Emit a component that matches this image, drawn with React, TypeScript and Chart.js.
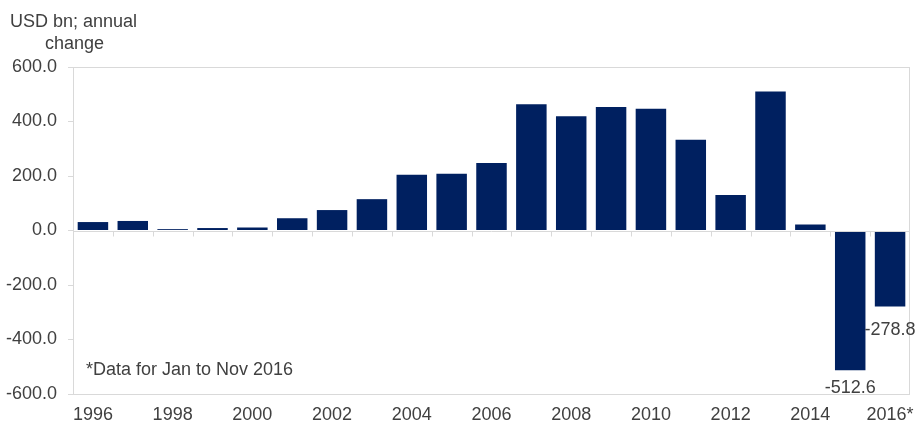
import React, { useEffect, useRef } from "react";
import { Chart, registerables } from "chart.js";

Chart.register(...registerables);

const years = [
  "1996", "1997", "1998", "1999", "2000", "2001", "2002", "2003", "2004", "2005",
  "2006", "2007", "2008", "2009", "2010", "2011", "2012", "2013", "2014", "2015", "2016*",
];
const changes = [
  31, 35, 5, 9, 11, 45, 75, 115, 205, 208, 248, 463, 419, 453, 447, 333, 130, 510, 22, -512.6, -278.8,
];
const labelledIndices = [19, 20];
const yTicks = [-600, -400, -200, 0, 200, 400, 600];
const titleLines = ["USD bn; annual", "change"];
const footnote = "*Data for Jan to Nov 2016";

const FONT = "'Liberation Sans', Arial, sans-serif";
const TEXT = "#404040";
const LINE = "#d9d9d9";

const decorPlugin = {
  id: "decor",
  beforeDatasetsDraw(chart: any) {
    const { ctx, chartArea } = chart;
    ctx.save();
    ctx.strokeStyle = LINE;
    ctx.lineWidth = 1;
    ctx.strokeRect(chartArea.left + 0.5, chartArea.top + 0.5, chartArea.right - chartArea.left - 1, chartArea.bottom - chartArea.top);
    ctx.restore();
  },
  afterDatasetsDraw(chart: any) {
    const { ctx, chartArea, scales } = chart;
    const y0 = Math.round(scales.y.getPixelForValue(0)) + 0.5;
    ctx.save();
    ctx.strokeStyle = LINE;
    ctx.lineWidth = 1;
    ctx.beginPath();
    ctx.moveTo(chartArea.left, y0);
    ctx.lineTo(chartArea.right, y0);
    const n = years.length;
    const catW = (chartArea.right - chartArea.left) / n;
    for (let k = 1; k < n; k++) {
      const x = Math.round(chartArea.left + k * catW) + 0.5;
      ctx.moveTo(x, y0);
      ctx.lineTo(x, y0 + 5);
    }
    ctx.stroke();

    // value labels
    const meta = chart.getDatasetMeta(0);
    ctx.fillStyle = TEXT;
    ctx.font = `18px ${FONT}`;
    ctx.textAlign = "center";
    ctx.textBaseline = "middle";
    const offsets = [18, 24];
    labelledIndices.forEach((idx, j) => {
      const el = meta.data[idx];
      ctx.fillText(changes[idx].toFixed(1), el.x, el.y + offsets[j]);
    });

    // footnote
    ctx.textAlign = "left";
    ctx.fillText(footnote, 86, 370);

    // title
    ctx.textBaseline = "alphabetic";
    ctx.fillText(titleLines[0], 10, 27);
    ctx.fillText(titleLines[1], 45, 49);
    ctx.restore();
  },
};

export default function App() {
  const ref = useRef<HTMLCanvasElement | null>(null);
  useEffect(() => {
    if (!ref.current) return;
    const chart = new Chart(ref.current, {
      type: "bar",
      data: {
        labels: years,
        datasets: [
          {
            data: changes,
            backgroundColor: "#002060",
            borderWidth: 0,
            barPercentage: 0.765,
            categoryPercentage: 1,
          },
        ],
      },
      options: {
        responsive: false,
        animation: false,
        layout: { padding: { top: 67, right: 7, left: 0, bottom: 0 } },
        plugins: { legend: { display: false }, tooltip: { enabled: false }, title: { display: false } },
        scales: {
          x: {
            offset: true,
            grid: { display: false, drawTicks: false, tickLength: 0 },
            border: { display: false },
            ticks: {
              autoSkip: false,
              maxRotation: 0,
              padding: 10,
              color: TEXT,
              font: { family: FONT, size: 18 },
              callback: (_v: any, i: number) => (i % 2 === 0 ? years[i] : ""),
            },
            afterFit: (s: any) => {
              s.height = 29;
              s.paddingLeft = 0;
              s.paddingRight = 0;
            },
          },
          y: {
            min: yTicks[0],
            max: yTicks[yTicks.length - 1],
            afterBuildTicks: (s: any) => {
              s.ticks = yTicks.map((v) => ({ value: v }));
            },
            grid: { drawOnChartArea: false, drawTicks: true, tickLength: 5, color: LINE },
            border: { display: true, color: LINE },
            ticks: {
              padding: 11,
              color: TEXT,
              font: { family: FONT, size: 18 },
              callback: (v: any) => Number(v).toFixed(1),
            },
            afterFit: (s: any) => {
              s.width = 73;
              s.paddingTop = 0;
              s.paddingBottom = 0;
            },
          },
        },
      },
      plugins: [decorPlugin],
    });
    return () => chart.destroy();
  }, []);
  return (
    <div style={{ position: "absolute", left: 0, top: 0, width: 917, height: 423, background: "#fff" }}>
      <canvas ref={ref} width={917} height={423} />
    </div>
  );
}
